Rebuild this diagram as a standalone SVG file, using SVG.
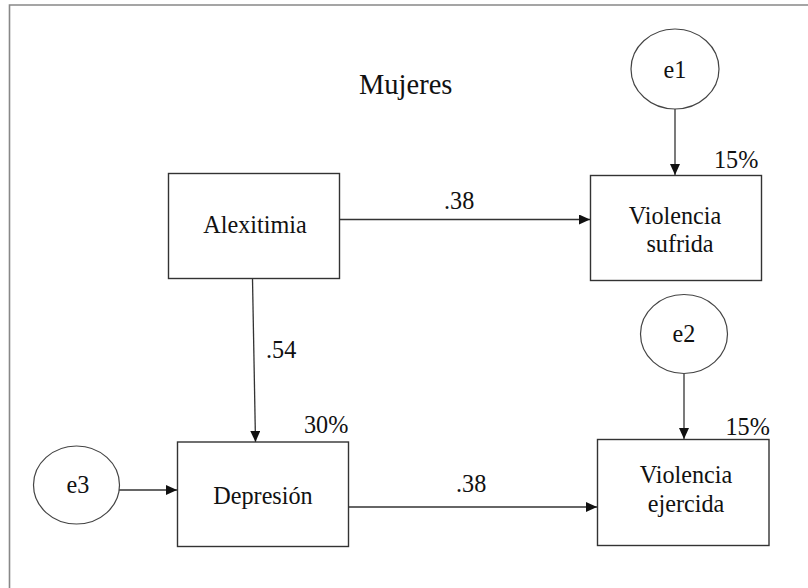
<svg xmlns="http://www.w3.org/2000/svg" width="808" height="588" viewBox="0 0 808 588">
<defs>
<marker id="arr" markerWidth="12" markerHeight="12" refX="11" refY="5" orient="auto" markerUnits="userSpaceOnUse">
<path d="M0,0 L11,5 L0,10 Z" fill="#111"/>
</marker>
</defs>
<style>
.box{fill:#fff;stroke:#333;stroke-width:1.4}
.ell{fill:#fff;stroke:#444;stroke-width:1.2}
.edge{stroke:#333;stroke-width:1.3;fill:none;marker-end:url(#arr)}
.frame{stroke:#888;stroke-width:1.6;fill:none}
text{font-family:"Liberation Serif","Times New Roman",serif;font-size:24.2px;fill:#111}
.m{text-anchor:middle}
</style>
<rect width="808" height="588" fill="#fff"/>
<path class="frame" d="M9.5,588 V5 H808"/>
<text x="359" y="94" style="font-size:28.5px">Mujeres</text>
<g id="connectors">
<line class="edge" x1="340" y1="219.5" x2="590" y2="219.5"/>
<line class="edge" x1="252.5" y1="279" x2="255.5" y2="442"/>
<line class="edge" x1="675" y1="109" x2="675" y2="175"/>
<line class="edge" x1="684" y1="373.5" x2="684" y2="439"/>
<line class="edge" x1="119" y1="490" x2="177" y2="490"/>
<line class="edge" x1="349" y1="507" x2="597" y2="507"/>
<text x="444" y="209">.38</text>
<text x="456" y="491.5">.38</text>
<text x="266" y="358">.54</text>
</g>
<g id="alexitimia">
<rect class="box" x="168.5" y="173.5" width="171" height="105"/>
<text class="m" x="255" y="233">Alexitimia</text>
</g>
<g id="violencia-sufrida">
<rect class="box" x="590.5" y="175.5" width="171" height="105"/>
<text class="m" x="675" y="224">Violencia</text>
<text class="m" x="680" y="252">sufrida</text>
<text x="714" y="168">15%</text>
</g>
<g id="e1">
<ellipse class="ell" cx="675" cy="69" rx="44" ry="40"/>
<text class="m" x="675" y="78">e1</text>
</g>
<g id="depresion">
<rect class="box" x="177.5" y="442" width="171" height="104.5"/>
<text class="m" x="263" y="504">Depresión</text>
<text x="304" y="432.5">30%</text>
</g>
<g id="e3">
<ellipse class="ell" cx="76.5" cy="485" rx="43" ry="39"/>
<text class="m" x="78" y="493">e3</text>
</g>
<g id="violencia-ejercida">
<rect class="box" x="597.5" y="439.5" width="171.5" height="106"/>
<text class="m" x="686" y="483">Violencia</text>
<text class="m" x="686" y="511.5">ejercida</text>
<text x="725.5" y="435">15%</text>
</g>
<g id="e2">
<ellipse class="ell" cx="684" cy="334" rx="43.5" ry="39.5"/>
<text class="m" x="684" y="342">e2</text>
</g>
</svg>
